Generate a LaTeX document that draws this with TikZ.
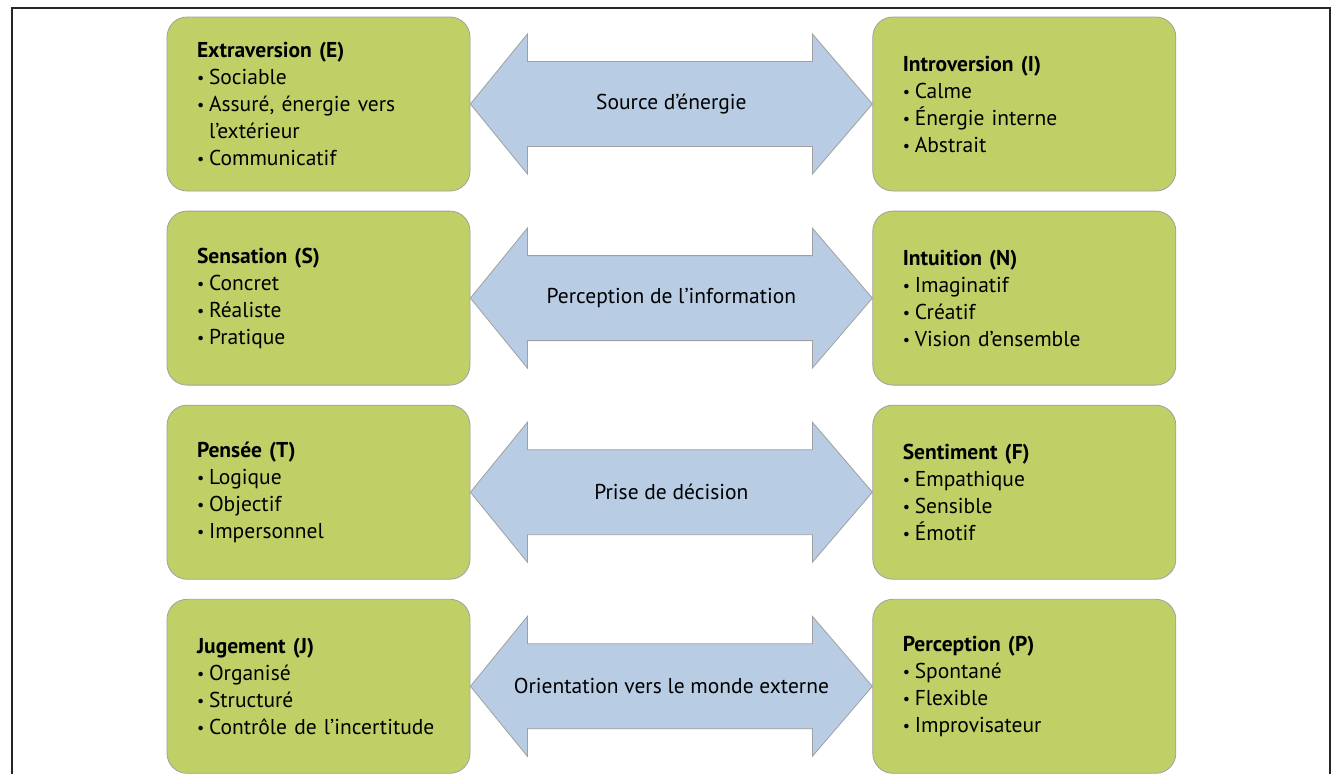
\documentclass[tikz,border=0pt]{standalone}
\usepackage{fontspec}
\setmainfont{PT Sans}
\usepackage{tikz}
\usetikzlibrary{calc,
                positioning}
\definecolor{vert}{RGB}{192,208,102}
\definecolor{bleu}{RGB}{184,204,228}
\definecolor{bord}{RGB}{160,160,160}
\tikzset{
  trait/.style={draw=bord, fill=vert, rounded corners=20pt, line width=0.8pt,
                minimum width=303pt, minimum height=174pt, text width=243pt,
                align=left, inner sep=0pt, font=\fontsize{21.5}{27}\selectfont},
  axe/.style={draw=bord, fill=bleu, line width=0.8pt},
  axelabel/.style={font=\fontsize{21.5}{27}\selectfont}
}
\newcommand{\itm}[1]{\makebox[12pt][l]{\fontsize{16}{16}\selectfont\raisebox{1pt}{•}}#1}
\newcommand{\suite}[1]{\makebox[12pt][l]{}#1}
% double fleche entre deux cadres
\newcommand{\fleche}[4]{%
  \path (#1.east) coordinate (#3g) (#2.west) coordinate (#3d);
  \draw[axe] (#3g) -- ++(57,-70) -- ++(0,27.5) -- ($(#3d)+(-60,-42.5)$)
    -- ++(0,-27.5) -- (#3d) -- ++(-60,70) -- ++(0,-27.5)
    -- ($(#3g)+(57,42.5)$) -- ++(0,27.5) -- cycle;
  \node[axelabel] (#3) at ($(#3g)!0.5!(#3d)$) {#4};
}

\begin{document}
\begin{tikzpicture}[x=1pt,y=-1pt]
    \useasboundingbox (0,0) rectangle (1334,774);
    \draw[line width=1.5pt, black!85] (12,774) -- (12,8) -- (1330,8) -- (1330,774);

    \node[trait] (ext) at (318.5,104) {\textbf{Extraversion (E)}\\ \itm{Sociable}\\ \itm{Assuré, énergie vers}\\ \suite{l’extérieur}\\ \itm{Communicatif}};
    \node[trait] (intro) [right=402pt of ext] {\textbf{Introversion (I)}\\ \itm{Calme}\\ \itm{Énergie interne}\\ \itm{Abstrait}};

    \node[trait] (sens) [below=19.3pt of ext] {\textbf{Sensation (S)}\\ \itm{Concret}\\ \itm{Réaliste}\\ \itm{Pratique}};
    \node[trait] (intu) [right=402pt of sens] {\textbf{Intuition (N)}\\ \itm{Imaginatif}\\ \itm{Créatif}\\ \itm{Vision d’ensemble}};

    \node[trait] (pens) [below=19.3pt of sens] {\textbf{Pensée (T)}\\ \itm{Logique}\\ \itm{Objectif}\\ \itm{Impersonnel}};
    \node[trait] (sent) [right=402pt of pens] {\textbf{Sentiment (F)}\\ \itm{Empathique}\\ \itm{Sensible}\\ \itm{Émotif}};

    \node[trait] (jug) [below=19.3pt of pens] {\textbf{Jugement (J)}\\ \itm{Organisé}\\ \itm{Structuré}\\ \itm{Contrôle de l’incertitude}};
    \node[trait] (perc) [right=402pt of jug] {\textbf{Perception (P)}\\ \itm{Spontané}\\ \itm{Flexible}\\ \itm{Improvisateur}};

    \fleche{ext}{intro}{energie}{Source d’énergie}
    \fleche{sens}{intu}{info}{Perception de l’information}
    \fleche{pens}{sent}{decision}{Prise de décision}
    \fleche{jug}{perc}{monde}{Orientation vers le monde externe}
\end{tikzpicture}
\end{document}
